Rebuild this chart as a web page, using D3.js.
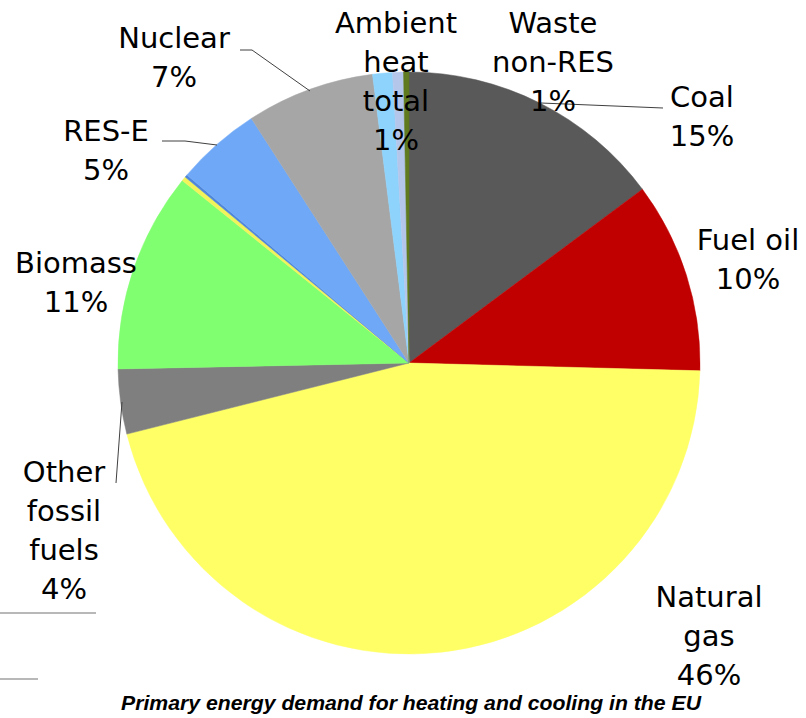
<!DOCTYPE html>
<html lang="en">
<head>
    <meta charset="UTF-8">
    <title>Primary energy demand for heating and cooling in the EU</title>
    <script src="https://d3js.org/d3.v7.min.js"></script>
    <style>
        body { margin: 0; background: #fff; }
        .label {
            font-family: "DejaVu Sans", Verdana, sans-serif;
            font-size: 29px;
            fill: #000;
        }
        .title {
            font-family: "Liberation Sans", Arial, sans-serif;
            font-weight: bold;
            font-style: italic;
            font-size: 19.5px;
            fill: #000;
        }
        .leader { fill: none; stroke: #404040; stroke-width: 1; }
    </style>
</head>
<body>
<svg width="806" height="718"></svg>

<script>
    // slices clockwise from 12 o'clock
    const categories = ["Coal", "Fuel oil", "Natural gas", "Other fossil fuels", "Biomass",
                        "Solar thermal", "Geothermal", "RES-E", "Nuclear", "Ambient heat total",
                        "Derived heat", "Waste non-RES"];
    const shares = [14.8, 10.6, 45.6, 3.6, 11.1, 0.25, 0.15, 4.7, 7.1, 1.1, 0.6, 0.3];
    const colors = ["#595959", "#C00000", "#FFFF66", "#7F7F7F", "#80FF70",
                    "#F2F25A", "#4F86D9", "#6FA8F7", "#A6A6A6", "#8DD3FC", "#B4C6EA", "#5F7A1F"];

    // labels shown on the chart (rounded as printed)
    const labelLines = {
        "Coal": ["Coal", "15%"],
        "Fuel oil": ["Fuel oil", "10%"],
        "Natural gas": ["Natural", "gas", "46%"],
        "Other fossil fuels": ["Other", "fossil", "fuels", "4%"],
        "Biomass": ["Biomass", "11%"],
        "RES-E": ["RES-E", "5%"],
        "Nuclear": ["Nuclear", "7%"],
        "Ambient heat total": ["Ambient", "heat", "total", "1%"],
        "Waste non-RES": ["Waste", "non-RES", "1%"]
    };
    const title = "Primary energy demand for heating and cooling in the EU";

    // layout
    const width = 806, height = 718;
    const cx = 409, cy = 363, radius = 291;
    const lineH = 39;
    const labelPos = {
        "Coal": [702, 107],
        "Fuel oil": [748, 250],
        "Natural gas": [709, 607],
        "Other fossil fuels": [64, 482],
        "Biomass": [76, 273],
        "RES-E": [106, 141],
        "Nuclear": [174, 48],
        "Ambient heat total": [396, 33],
        "Waste non-RES": [553, 33]
    };
    const leaders = [
        [[541, 103], [663, 108]],
        [[240, 50], [252, 50], [310, 91]],
        [[162, 141], [185, 141], [217, 145]],
        [[116, 483], [122, 402]]
    ];

    const svg = d3.select("svg")
        .attr("width", width)
        .attr("height", height);

    const data = categories.map((c, i) => ({ name: c, value: shares[i], color: colors[i] }));

    const pie = d3.pie()
        .sort(null)
        .value(d => d.value);

    const arc = d3.arc()
        .innerRadius(0)
        .outerRadius(radius);

    const g = svg.append("g")
        .attr("transform", `translate(${cx},${cy})`);

    g.selectAll("path")
        .data(pie(data))
        .enter().append("path")
        .attr("d", arc)
        .attr("fill", d => d.data.color)
        .attr("stroke", d => d.data.color)
        .attr("stroke-width", 0.5);

    // leader lines
    const line = d3.line();
    svg.selectAll(".leader")
        .data(leaders)
        .enter().append("path")
        .attr("class", "leader")
        .attr("d", d => line(d));

    // stray leader lines at the bottom left
    svg.append("line").attr("x1", 0).attr("x2", 96).attr("y1", 613).attr("y2", 613)
        .attr("stroke", "#A0A0A0").attr("stroke-width", 1.5);
    svg.append("line").attr("x1", 0).attr("x2", 38).attr("y1", 679).attr("y2", 679)
        .attr("stroke", "#A0A0A0").attr("stroke-width", 1.5);

    // labels
    Object.keys(labelLines).forEach(name => {
        const [x, y] = labelPos[name];
        const t = svg.append("text")
            .attr("class", "label")
            .attr("text-anchor", "middle");
        labelLines[name].forEach((s, i) => {
            t.append("tspan")
                .attr("x", x)
                .attr("y", y + i * lineH)
                .text(s);
        });
    });

    svg.append("text")
        .attr("class", "title")
        .attr("x", 411)
        .attr("y", 710)
        .attr("text-anchor", "middle")
        .attr("textLength", 580)
        .attr("lengthAdjust", "spacingAndGlyphs")
        .text(title);
</script>
</body>
</html>
